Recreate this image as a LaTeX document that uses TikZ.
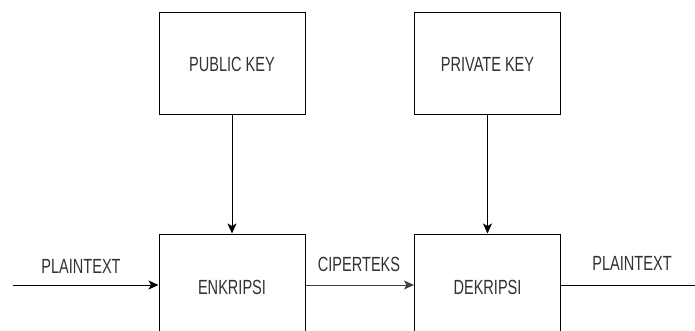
\documentclass[tikz,border=0pt]{standalone}
\usepackage{fontspec}
\newfontfamily\diafont[FakeStretch=0.71]{Liberation Sans}
\usetikzlibrary{arrows.meta}
\definecolor{txt}{HTML}{333333}
\tikzset{
  blk/.style={draw=black, line width=1pt, fill=white, minimum width=146pt,
    inner sep=0pt, font=\diafont\fontsize{20.5}{24}\selectfont, text=txt},
  lbl/.style={inner sep=0pt, font=\diafont\fontsize{20.5}{24}\selectfont, text=txt},
  flow/.style={line width=1pt, -{Stealth[length=10pt,width=9pt,inset=2.5pt]}},
  plain/.style={line width=1pt}
}
\begin{document}
\begin{tikzpicture}[x=1pt, y=-1pt]
  \useasboundingbox (0,0) rectangle (695,331);
  \clip (0,0) rectangle (695,331);
  \fill[white] (0,0) rectangle (695,331);

  % key boxes
  \node[blk, minimum height=102pt] (pub)  at (232,64) {PUBLIC KEY};
  \node[blk, minimum height=102pt] (priv) at (487.5,64) {PRIVATE KEY};

  % process boxes (run past the lower edge)
  \node[blk, minimum height=106pt] (enk) at (232,287) {ENKRIPSI};
  \node[blk, minimum height=106pt] (dek) at (487.5,287) {DEKRIPSI};

  % free ends of the plaintext lines
  \coordinate (pin)  at (13,285);
  \coordinate (pout) at (695,285);

  % labels
  \node[lbl] (lin)  at (81,266)  {PLAINTEXT};
  \node[lbl] (lcip) at (359,264) {CIPERTEKS};
  \node[lbl] (lout) at (632,263) {PLAINTEXT};

  % connectors
  \draw[flow] (pub.south) -- (enk.north);
  \draw[flow] (priv.south) -- (dek.north);
  \draw[flow] (pin) -- (pin -| enk.west);
  \draw[flow, draw=black!75] (enk.east |- pin) -- (pin -| dek.west);
  \draw[plain] (dek.east |- pout) -- (pout);
\end{tikzpicture}
\end{document}
